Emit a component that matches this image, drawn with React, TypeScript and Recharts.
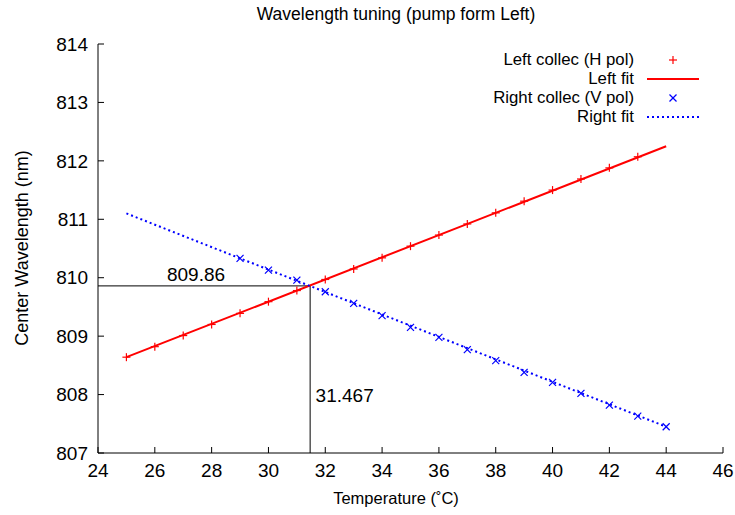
import React from 'react';
import {
  ComposedChart,
  Line,
  Scatter,
  XAxis,
  YAxis,
} from 'recharts';

const leftCollec = [
  { x: 25, y: 808.64 }, { x: 26, y: 808.82 }, { x: 27, y: 809.01 }, { x: 28, y: 809.2 },
  { x: 29, y: 809.39 }, { x: 30, y: 809.59 }, { x: 31, y: 809.78 }, { x: 32, y: 809.97 },
  { x: 33, y: 810.15 }, { x: 34, y: 810.34 }, { x: 35, y: 810.54 }, { x: 36, y: 810.73 },
  { x: 37, y: 810.92 }, { x: 38, y: 811.11 }, { x: 39, y: 811.31 }, { x: 40, y: 811.5 },
  { x: 41, y: 811.69 }, { x: 42, y: 811.88 }, { x: 43, y: 812.07 },
];

const rightCollec = [
  { x: 29, y: 810.33 }, { x: 30, y: 810.13 }, { x: 31, y: 809.96 }, { x: 32, y: 809.76 },
  { x: 33, y: 809.56 }, { x: 34, y: 809.35 }, { x: 35, y: 809.15 }, { x: 36, y: 808.98 },
  { x: 37, y: 808.77 }, { x: 38, y: 808.58 }, { x: 39, y: 808.38 }, { x: 40, y: 808.21 },
  { x: 41, y: 808.02 }, { x: 42, y: 807.82 }, { x: 43, y: 807.63 }, { x: 44, y: 807.45 },
];

// fit lines, end points
const leftFit = [{ x: 25, y: 808.64 }, { x: 44, y: 812.25 }];
const rightFit = [{ x: 25, y: 811.1 }, { x: 44, y: 807.45 }];

// crossing guide
const crossGuide = [{ x: 24, y: 809.86 }, { x: 31.467, y: 809.86 }, { x: 31.467, y: 807 }];

const annotations = [
  { x: 27.45, y: 810.05, text: '809.86', anchor: 'middle' },
  { x: 31.66, y: 807.98, text: '31.467', anchor: 'start' },
];

const xTicks = [24, 26, 28, 30, 32, 34, 36, 38, 40, 42, 44, 46];
const yTicks = [807, 808, 809, 810, 811, 812, 813, 814];

const legendItems = [
  { label: 'Left collec (H pol)', kind: 'plus' },
  { label: 'Left fit', kind: 'solid' },
  { label: 'Right collec (V pol)', kind: 'cross' },
  { label: 'Right fit', kind: 'dotted' },
];

const FONT = '"Liberation Sans", Arial, Helvetica, sans-serif';
const RED = '#ff0000';
const BLUE = '#0000ff';

function Plus({ cx, cy }: any) {
  const s = 4;
  return (
    <g stroke={RED} strokeWidth={1.2}>
      <line x1={cx - s} y1={cy} x2={cx + s} y2={cy} />
      <line x1={cx} y1={cy - s} x2={cx} y2={cy + s} />
    </g>
  );
}

function Cross({ cx, cy }: any) {
  const s = 3.5;
  return (
    <g stroke={BLUE} strokeWidth={1.2}>
      <line x1={cx - s} y1={cy - s} x2={cx + s} y2={cy + s} />
      <line x1={cx - s} y1={cy + s} x2={cx + s} y2={cy - s} />
    </g>
  );
}

function Note({ cx, cy, payload }: any) {
  return (
    <text x={cx} y={cy} dy="0.35em" textAnchor={payload.anchor} fontSize={19} fontFamily={FONT} fill="#000">
      {payload.text}
    </text>
  );
}

function Sample({ kind }: { kind: string }) {
  return (
    <svg width={56} height={18} style={{ display: 'block' }}>
      {kind === 'plus' && <Plus cx={26} cy={9} />}
      {kind === 'cross' && <Cross cx={26} cy={9} />}
      {kind === 'solid' && <line x1={0} y1={9} x2={52} y2={9} stroke={RED} strokeWidth={2} />}
      {kind === 'dotted' && (
        <line x1={0} y1={9} x2={52} y2={9} stroke={BLUE} strokeWidth={2} strokeDasharray="2 3" />
      )}
    </svg>
  );
}

export default function App() {
  return (
    <div style={{ position: 'absolute', left: 0, top: 0, width: 735, height: 515, background: '#fff', fontFamily: FONT }}>
      <ComposedChart width={735} height={515} margin={{ top: 44, right: 12, bottom: 22, left: 48 }}>
        <XAxis
          type="number"
          dataKey="x"
          domain={[24, 46]}
          ticks={xTicks}
          allowDataOverflow
          height={40}
          tickSize={-6}
          tickMargin={17}
          stroke="#000"
          tick={{ fill: '#000', fontSize: 19, fontFamily: FONT }}
        />
        <YAxis
          type="number"
          dataKey="y"
          domain={[807, 814]}
          ticks={yTicks}
          allowDataOverflow
          width={50}
          tickSize={-6}
          tickMargin={16}
          stroke="#000"
          tick={{ fill: '#000', fontSize: 19, fontFamily: FONT }}
        />
        <Line data={crossGuide} dataKey="y" stroke="#000" strokeWidth={1} dot={false} isAnimationActive={false} />
        <Line data={leftFit} dataKey="y" stroke={RED} strokeWidth={2} dot={false} isAnimationActive={false} />
        <Line
          data={rightFit}
          dataKey="y"
          stroke={BLUE}
          strokeWidth={2}
          strokeDasharray="2 3"
          dot={false}
          isAnimationActive={false}
        />
        <Scatter data={leftCollec} dataKey="y" shape={<Plus />} isAnimationActive={false} />
        <Scatter data={rightCollec} dataKey="y" shape={<Cross />} isAnimationActive={false} />
        <Scatter data={annotations} dataKey="y" shape={<Note />} isAnimationActive={false} />
      </ComposedChart>

      <div style={{ position: 'absolute', left: 0, width: 792, top: 4, textAlign: 'center', fontSize: 17.5 }}>
        Wavelength tuning (pump form Left)
      </div>
      <div style={{ position: 'absolute', left: 0, width: 792, top: 489, textAlign: 'center', fontSize: 16.5 }}>
        Temperature (˚C)
      </div>
      <div
        style={{
          position: 'absolute',
          left: 22,
          top: 248,
          transform: 'translate(-50%, -50%) rotate(-90deg)',
          whiteSpace: 'nowrap',
          fontSize: 18,
        }}
      >
        Center Wavelength (nm)
      </div>

      <div style={{ position: 'absolute', left: 300, top: 50, width: 420 }}>
        {legendItems.map((it) => (
          <div key={it.label} style={{ display: 'flex', alignItems: 'center', height: 19, fontSize: 16.8 }}>
            <div style={{ width: 334, textAlign: 'right', whiteSpace: 'nowrap', lineHeight: '17px', height: 17 }}>
              {it.label}
            </div>
            <div style={{ marginLeft: 13 }}>
              <Sample kind={it.kind} />
            </div>
          </div>
        ))}
      </div>
    </div>
  );
}
